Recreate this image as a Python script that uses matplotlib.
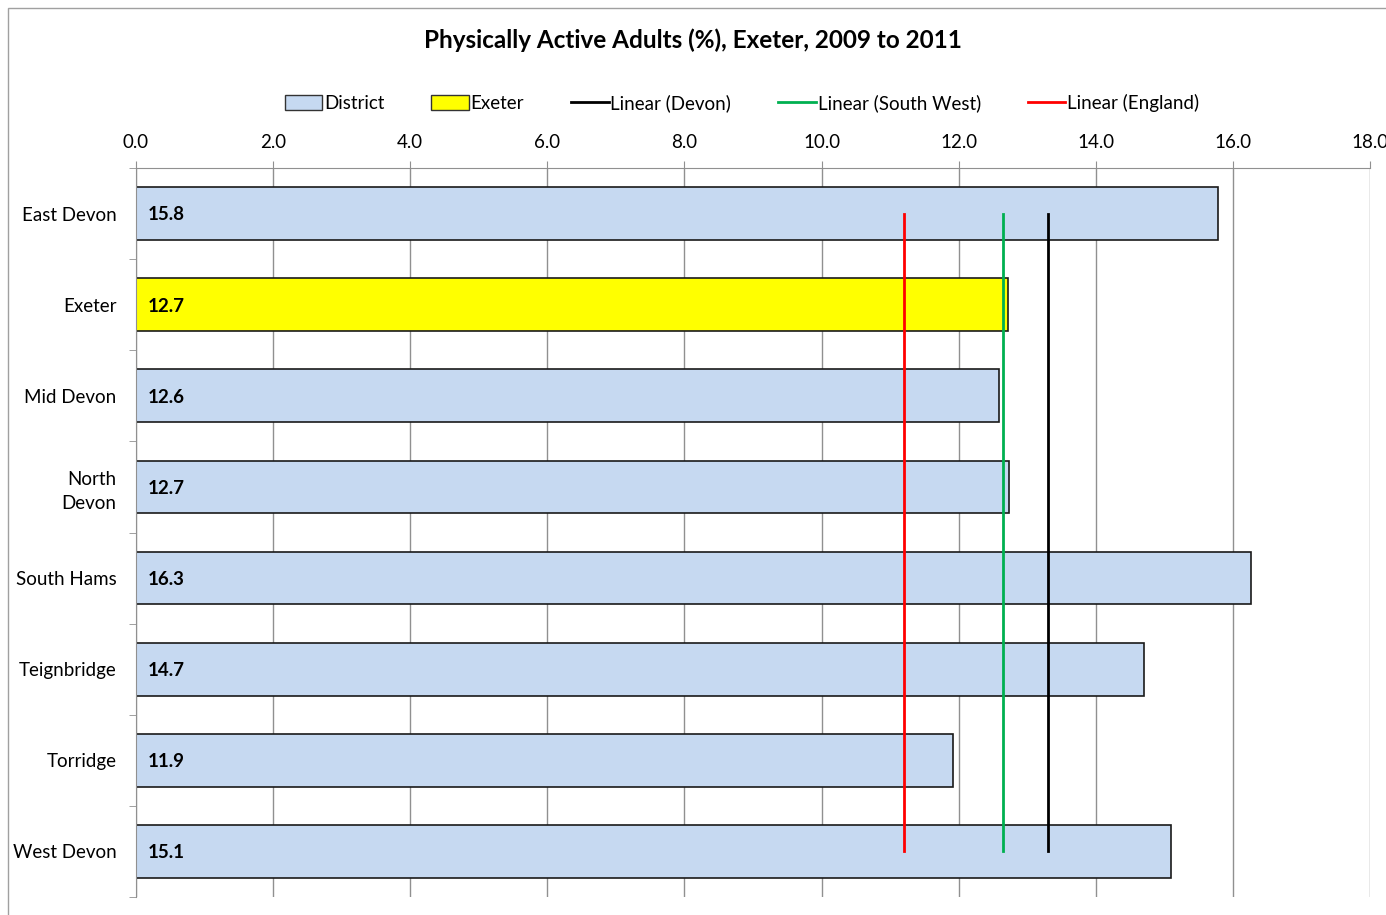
import numpy as np
import matplotlib.pyplot as plt
from matplotlib.patches import Rectangle
from matplotlib.lines import Line2D

plt.rcParams['font.family'] = ['Lato', 'DejaVu Sans']

districts = ["East Devon", "Exeter", "Mid Devon", "North\nDevon", "South Hams",
             "Teignbridge", "Torridge", "West Devon"]
values = [15.8, 12.7, 12.6, 12.7, 16.3, 14.7, 11.9, 15.1]
bar_ends = [15.79, 12.72, 12.59, 12.74, 16.27, 14.70, 11.92, 15.09]
devon = 13.3
south_west = 12.65
england = 11.2
highlight = "Exeter"

fig = plt.figure(figsize=(13.86, 9.15), dpi=100)
fig.patches.append(Rectangle((8 / 1386, -0.01), 1.1, 1 - 8 / 915 + 0.01,
                             transform=fig.transFigure, fill=False,
                             edgecolor="#a0a0a0", linewidth=1))
ax = fig.add_axes([136 / 1386, 1 - 897 / 915, (1370 - 136) / 1386, (897 - 168) / 915])

y = np.arange(len(districts))
colors = ["#ffff00" if d == highlight else "#c6d9f1" for d in districts]
ax.barh(y, bar_ends, height=0.58, color=colors, edgecolor="#1a1a1a",
        linewidth=1.2, zorder=2)

for yi, v in zip(y, values):
    ax.annotate(f"{v:.1f}", (0, yi), xytext=(8.5, -1), textcoords="offset points",
                va="center", ha="left", fontsize=13.5, fontweight="bold", zorder=4)

ax.plot([england, england], [y[0], y[-1]], color="#ff0000", lw=2, zorder=3)
ax.plot([south_west, south_west], [y[0], y[-1]], color="#00b050", lw=2, zorder=3)
ax.plot([devon, devon], [y[0], y[-1]], color="#000000", lw=2, zorder=3)

ax.set_xlim(0, 18)
ax.set_ylim(len(districts) - 0.5, -0.5)
ax.set_xticks(np.arange(0, 18.1, 2))
ax.set_xticklabels([f"{t:.1f}" for t in np.arange(0, 18.1, 2)])
ax.xaxis.tick_top()
ax.tick_params(axis="x", length=5, color="#909090", labelsize=13.5, pad=7.5)
ax.grid(axis="x", color="#909090", lw=1, zorder=0)

ax.set_yticks(y)
ax.set_yticklabels(districts, ha="right", multialignment="right", linespacing=1.5)
ax.set_yticks(np.arange(-0.5, len(districts)), minor=True)
ax.tick_params(axis="y", which="major", length=0, labelsize=13.5, pad=14)
ax.tick_params(axis="y", which="minor", length=5, color="#909090")

for s in ["right", "bottom"]:
    ax.spines[s].set_visible(False)
for s in ["top", "left"]:
    ax.spines[s].set_color("#909090")

fig.text(0.5, 1 - 40 / 915, "Physically Active Adults (%), Exeter, 2009 to 2011",
         ha="center", va="center", fontsize=17.5, fontweight="bold")

handles = [
    Rectangle((0, 0), 1, 1, facecolor="#c6d9f1", edgecolor="#333333"),
    Rectangle((0, 0), 1, 1, facecolor="#ffff00", edgecolor="#333333"),
    Line2D([], [], color="#000000", lw=2),
    Line2D([], [], color="#00b050", lw=2),
    Line2D([], [], color="#ff0000", lw=2),
]
labels = ["District", "Exeter", "Linear (Devon)", "Linear (South West)", "Linear (England)"]
fig.legend(handles, labels, loc="center", bbox_to_anchor=(742 / 1386, 1 - 103 / 915),
           ncol=5, frameon=False, fontsize=13.5, handlelength=2.0, handleheight=0.8,
           handletextpad=0.1, columnspacing=2.5)

fig.savefig("out.png", dpi=100)
